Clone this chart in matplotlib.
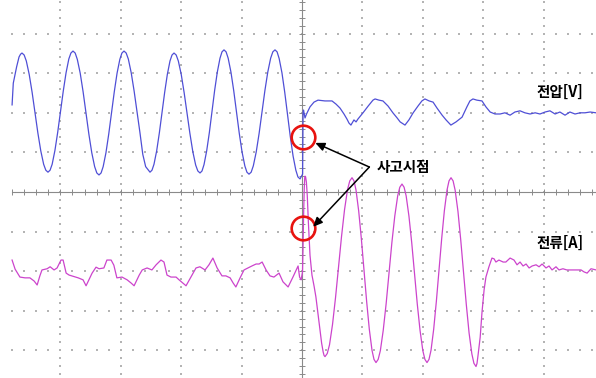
import numpy as np
import matplotlib
matplotlib.use("Agg")
import matplotlib.pyplot as plt

plt.rcParams['font.family'] = ['Noto Sans CJK KR', 'DejaVu Sans']

# Oscilloscope capture around a fault: time in ms (0 = fault instant),
# trace amplitude in screen divisions relative to each channel's reference level.
volt_pre = [
    (-96.0, 0.20), (-95.6, 0.75), (-94.5, 1.16), (-93.7, 1.41), (-93.2, 1.48), (-92.72, 1.51),
    (-92.00, 1.46), (-91.29, 1.31), (-90.33, 0.97), (-89.37, 0.52), (-88.42, 0.00),
    (-87.46, -0.51), (-86.50, -0.96), (-85.55, -1.30), (-84.83, -1.45), (-84.11, -1.50),
    (-83.42, -1.45), (-82.73, -1.30), (-81.81, -0.95), (-80.89, -0.49), (-79.97, 0.03),
    (-79.05, 0.55), (-78.13, 1.01), (-77.21, 1.36), (-76.52, 1.51), (-75.83, 1.56),
    (-75.11, 1.51), (-74.40, 1.35), (-73.44, 1.00), (-72.48, 0.53), (-71.53, 0.00),
    (-70.57, -0.54), (-69.61, -1.01), (-68.66, -1.36), (-67.94, -1.52), (-67.22, -1.57),
    (-66.53, -1.52), (-65.84, -1.36), (-64.92, -1.01), (-64.00, -0.54), (-63.08, 0.00),
    (-62.16, 0.53), (-61.24, 1.00), (-60.32, 1.35), (-59.63, 1.51), (-58.94, 1.56),
    (-58.22, 1.51), (-57.51, 1.36), (-56.55, 1.01), (-55.59, 0.55), (-54.64, 0.03),
    (-53.68, -0.49), (-52.72, -1.05), (-51.77, -1.36), (-51.05, -1.43), (-50.33, -1.50),
    (-49.67, -1.45), (-49.01, -1.30), (-48.12, -0.96), (-47.24, -0.51), (-46.36, 0.01),
    (-45.47, 0.52), (-44.59, 0.97), (-43.71, 1.31), (-43.04, 1.46), (-42.38, 1.51),
    (-41.66, 1.46), (-40.95, 1.31), (-39.99, 0.97), (-39.03, 0.51), (-38.08, -0.01),
    (-37.12, -0.52), (-36.16, -0.98), (-35.21, -1.32), (-34.49, -1.47), (-33.77, -1.52),
    (-33.11, -1.47), (-32.45, -1.31), (-31.56, -0.96), (-30.68, -0.50), (-29.80, 0.04),
    (-28.92, 0.57), (-28.04, 1.03), (-27.15, 1.38), (-26.49, 1.54), (-25.83, 1.59),
    (-25.14, 1.54), (-24.45, 1.38), (-23.53, 1.03), (-22.61, 0.56), (-21.69, 0.02),
    (-20.77, -0.52), (-19.85, -0.99), (-18.93, -1.34), (-18.24, -1.50), (-17.55, -1.55),
    (-16.83, -1.50), (-16.12, -1.34), (-15.16, -0.99), (-14.20, -0.52), (-13.25, 0.02),
    (-12.29, 0.56), (-11.33, 1.03), (-10.38, 1.38), (-9.66, 1.54), (-8.94, 1.59),
    (-8.25, 1.54), (-7.56, 1.37), (-6.64, 1.01), (-5.72, 0.52), (-4.80, -0.04),
    (-3.88, -0.60), (-2.96, -1.09), (-2.04, -1.45), (-1.35, -1.62), (-0.66, -1.67),
    (0.2, -1.55),
]
volt_post = [
    (0.35, 0.00), (0.5, 0.07), (1.0, -0.13), (1.5, -0.03), (2.65, 0.15), (3.97, 0.27),
    (5.3, 0.32), (7.6, 0.30), (9.93, 0.30), (11.26, 0.22), (12.58, 0.12), (13.9, -0.03),
    (14.9, -0.16), (15.56, -0.26), (16.2, -0.31), (17.2, -0.18), (17.9, -0.23), (18.5, -0.16),
    (20.2, 0.00), (21.9, 0.17), (23.5, 0.32), (24.2, 0.35), (25.5, 0.32), (26.8, 0.30),
    (28.5, 0.17), (30.1, 0.00), (31.5, -0.13), (32.5, -0.23), (34.1, -0.31), (35.4, -0.18),
    (36.8, 0.00), (38.4, 0.17), (39.7, 0.30), (40.7, 0.35), (42.1, 0.30), (43.4, 0.27),
    (44.7, 0.12), (46.4, -0.06), (47.7, -0.18), (49.3, -0.31), (51.0, -0.23), (53.0, -0.11),
    (54.6, 0.15), (55.6, 0.30), (56.6, 0.35), (57.9, 0.32), (59.6, 0.30), (60.9, 0.15),
    (62.3, 0.02), (63.9, -0.03), (65.6, -0.03), (67.2, 0.00), (68.9, -0.06), (70.5, 0.02),
    (72.2, 0.05), (73.8, 0.00), (75.5, -0.03), (77.2, 0.00), (78.8, -0.03), (80.5, 0.02),
    (82.1, 0.05), (83.8, -0.03), (85.4, 0.02), (87.1, -0.06), (88.7, 0.02), (90.4, -0.03),
    (92.1, 0.00), (93.7, 0.00), (95.4, 0.02), (97.4, 0.00),
]
curr_pre = [
    (-96.0, 0.28), (-95.0, 0.05), (-93.4, -0.15), (-91.7, -0.17), (-90.1, -0.17), (-88.7, -0.25),
    (-87.7, -0.35), (-86.8, -0.12), (-86.1, 0.03), (-84.4, 0.06), (-83.4, 0.11), (-82.1, 0.03),
    (-81.1, 0.08), (-79.8, 0.28), (-79.1, 0.28), (-78.1, -0.05), (-77.1, -0.10), (-74.1, -0.17),
    (-72.5, -0.22), (-71.5, -0.37), (-69.5, -0.05), (-68.2, 0.10), (-67.2, 0.06), (-65.6, 0.08),
    (-64.6, 0.28), (-63.2, 0.28), (-62.3, 0.15), (-61.3, -0.17), (-59.6, -0.15), (-57.9, -0.22),
    (-56.6, -0.30), (-55.6, -0.37), (-53.9, -0.10), (-52.9, 0.03), (-51.3, 0.08), (-49.7, 0.03),
    (-48.3, 0.16), (-46.7, 0.28), (-45.7, 0.23), (-44.7, -0.10), (-43.4, -0.15), (-41.7, -0.15),
    (-40.7, -0.22), (-38.4, -0.37), (-36.8, -0.15), (-35.1, 0.08), (-33.8, 0.11), (-32.1, 0.03),
    (-30.8, 0.16), (-29.5, 0.33), (-28.1, 0.08), (-26.5, -0.12), (-25.2, -0.12), (-23.8, -0.17),
    (-22.8, -0.30), (-21.9, -0.40), (-20.5, -0.17), (-19.2, 0.03), (-17.9, 0.08), (-16.6, 0.13),
    (-15.2, 0.18), (-14.2, 0.18), (-13.2, 0.23), (-11.9, 0.03), (-10.6, -0.12), (-9.3, -0.15),
    (-7.6, -0.05), (-6.3, -0.27), (-4.6, -0.40), (-3.0, -0.15), (-1.3, 0.13), (-0.8, -0.15),
    (-0.3, -0.22), (0.17, -0.02),
]
curr_post = [
    (0.33, 0.54), (0.55, 1.50), (0.75, 2.10), (0.9, 2.35), (1.0, 2.40), (1.2, 2.38),
    (1.45, 2.25), (1.75, 1.90), (2.1, 1.25), (2.65, 0.40), (3.3, -0.10), (4.0, -0.38),
    (4.6, -0.65), (5.3, -1.08), (5.96, -1.48), (6.5, -1.82), (7.0, -2.04), (7.3, -2.13),
    (7.62, -2.16),
    (8.37, -2.08), (9.11, -1.86), (10.10, -1.35), (11.10, -0.67), (12.09, 0.10),
    (13.08, 0.87), (14.08, 1.55), (15.07, 2.06), (15.82, 2.28), (16.56, 2.36),
    (17.22, 2.28), (17.88, 2.05), (18.77, 1.52), (19.65, 0.82), (20.53, 0.03),
    (21.41, -0.77), (22.29, -1.47), (23.18, -2.00), (23.84, -2.23), (24.50, -2.31),
    (25.22, -2.23), (25.94, -2.01), (26.89, -1.50), (27.85, -0.83), (28.81, -0.06),
    (29.76, 0.72), (30.72, 1.39), (31.68, 1.90), (32.39, 2.12), (33.11, 2.20),
    (33.80, 2.12), (34.49, 1.90), (35.41, 1.39), (36.33, 0.72), (37.25, -0.06),
    (38.17, -0.83), (39.09, -1.50), (40.01, -2.01), (40.70, -2.23), (41.39, -2.31),
    (42.05, -2.23), (42.72, -2.00), (43.60, -1.47), (44.48, -0.77), (45.37, 0.03),
    (46.25, 0.82), (47.13, 1.52), (48.02, 2.05), (48.68, 2.28), (49.34, 2.36),
    (50.03, 2.28), (50.72, 2.04), (51.64, 1.51), (52.56, 0.79), (53.48, -0.03),
    (54.40, -0.84), (55.32, -1.56), (56.24, -2.09), (56.93, -2.33), (57.62, -2.41),
    (57.95, -2.33), (58.3, -2.12), (59.0, -1.67), (59.6, -1.04), (60.3, -0.47), (60.9, -0.15),
    (61.9, 0.11), (62.9, 0.33), (63.6, 0.31), (64.2, 0.23), (65.2, 0.28), (66.6, 0.23),
    (67.5, 0.23), (68.9, 0.33), (70.2, 0.28), (71.2, 0.16), (72.2, 0.23), (73.2, 0.13),
    (74.2, 0.18), (75.2, 0.08), (76.2, 0.13), (77.5, 0.16), (78.5, 0.11), (79.5, 0.18),
    (80.8, 0.08), (81.8, 0.13), (82.8, 0.03), (84.1, 0.11), (85.1, 0.03), (86.4, 0.06),
    (87.7, 0.03), (89.4, 0.03), (91.1, 0.03), (92.4, 0.03), (93.4, -0.02), (94.4, -0.05),
    (95.7, 0.06), (97.4, 0.03),
]

labels = {"voltage": "전압[V]", "current": "전류[A]", "fault": "사고시점"}

# channel reference levels on screen (divisions)
VOLT_POS = 2.0
CURR_POS = -2.0
MS_PER_DIV = 20.0
SUBDIV = 5

volt = np.array(volt_pre + volt_post)
curr = np.array(curr_pre + curr_post)

fig = plt.figure(figsize=(5.96, 3.78), dpi=100)
ax = fig.add_axes([0, 0, 1, 1])
ax.set_xlim(-100.0, 97.35)
ax.set_ylim(-4.70, 4.85)
ax.axis('off')

grid_c = '#b4b4b4'
t0 = -96.0
# dotted horizontal graticule lines
sub_t = np.arange(t0, 97.5, MS_PER_DIV / SUBDIV)
for row in [-4, -3, -2, -1, 1, 2, 3, 4]:
    ax.scatter(sub_t, np.full_like(sub_t, row), s=1.0, marker='s', c=grid_c, linewidths=0, zorder=1)
# dotted vertical graticule lines
sub_y = np.arange(-4.6, 4.85, 1.0 / SUBDIV)
for col in [-80, -60, -40, -20, 20, 40, 60, 80]:
    ax.scatter(np.full_like(sub_y, col), sub_y, s=1.0, marker='s', c=grid_c, linewidths=0, zorder=1)

# centre axes with minor ticks
axis_c = '#8a8a8a'
ax.plot([t0, 97.4], [0, 0], color=axis_c, lw=0.8, zorder=2)
ax.plot([0, 0], [-4.7, 4.85], color=axis_c, lw=0.8, zorder=2)
ax.plot(sub_t, np.zeros_like(sub_t), ls='none', marker='|', ms=4, mew=0.7, color=axis_c, zorder=2)
ax.plot(np.zeros_like(sub_y), sub_y, ls='none', marker='_', ms=4.5, mew=0.7, color=axis_c, zorder=2)

# traces
ax.plot(volt[:, 0], volt[:, 1] + VOLT_POS, color='#4f4fd6', lw=0.9, zorder=3)
ax.plot(curr[:, 0], curr[:, 1] + CURR_POS, color='#cc44cc', lw=0.9, zorder=3)

font = dict(family=['Noto Sans CJK KR', 'DejaVu Sans'], fontweight='bold', fontsize=10.5)
ax.text(85.4, 2.53, labels["voltage"], ha='center', va='center', **font, zorder=5)
ax.text(85.4, -1.29, labels["current"], ha='center', va='center', **font, zorder=5)
ax.text(33.6, 0.63, labels["fault"], ha='center', va='center', **font, zorder=5)

# fault instant markers
for cy in (1.39, -0.91):
    ax.plot([0.35], [cy], marker='o', ms=17, mfc='none', mec='#e8130f', mew=1.9, zorder=6)

for hx, hy in ((4.4, 1.24), (3.7, -0.88)):
    ax.annotate('', xy=(hx, hy), xytext=(22.3, 0.63),
                arrowprops=dict(arrowstyle='-|>,head_length=0.55,head_width=0.25',
                                color='black', lw=1.1, shrinkA=0, shrinkB=0),
                zorder=6)

fig.savefig('out.png', dpi=100, facecolor='white')
